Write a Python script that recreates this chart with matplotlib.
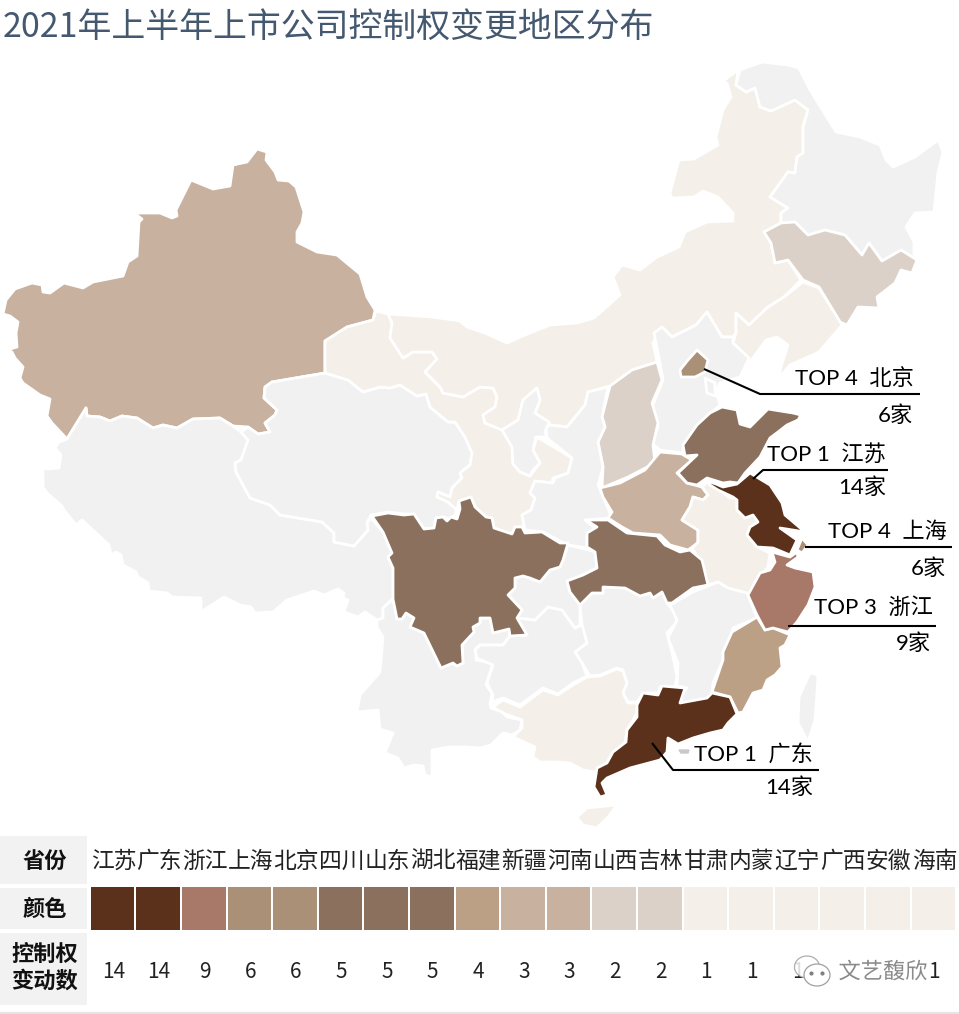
import matplotlib
matplotlib.use("Agg")
import matplotlib.pyplot as plt
from matplotlib.patches import Rectangle, Ellipse
import matplotlib.patheffects as pe

plt.rcParams['font.family'] = ['Noto Sans CJK SC', 'DejaVu Sans']

# table at the bottom
table_provinces = ['江苏', '广东', '浙江', '上海', '北京', '四川', '山东', '湖北', '福建', '新疆',
                   '河南', '山西', '吉林', '甘肃', '内蒙', '辽宁', '广西', '安徽', '海南']
table_counts = [14, 14, 9, 6, 6, 5, 5, 5, 4, 3, 3, 2, 2, 1, 1, 1, 1, 1, 1]
row_labels = ['省份', '颜色', '控制权\n变动数']
# these two counts sit under the watermark in the picture
hidden_counts = ['广西', '安徽']

# colour for each count
count_values = [14, 9, 6, 5, 4, 3, 2, 1]
count_colors = ['#5b311b', '#a87969', '#ab9078', '#8b705e', '#bba086', '#c9b1a0', '#dbd1c8', '#f4efe9']
no_data_color = '#f1f1f1'

# callouts
callout_ranks = [4, 1, 4, 3, 1]
callout_names = ['北京', '江苏', '上海', '浙江', '广东']
callout_counts = [6, 14, 6, 9, 14]

# province outlines
xinjiang = [(257,149),(267,152),(266,160),(275,172),(278,180),(289,181),(296,187),(304,212),(302,223),(297,232),(297,242),(317,252),(337,255),(360,274),(367,297),(375,310),(373,320),(347,327),(325,341),(325,373),(272,382),(265,387),(264,398),(277,410),(275,415),(265,423),(270,432),(258,434),(248,427),(233,426),(220,418),(193,419),(177,428),(163,425),(153,428),(137,418),(122,416),(110,421),(100,417),(87,416),(86,408),(67,439),(52,423),(47,416),(50,399),(40,395),(23,383),(20,378),(23,367),(15,358),(12,352),(3,348),(10,349),(17,347),(16,333),(18,322),(10,316),(3,314),(6,300),(15,289),(32,283),(42,285),(43,292),(50,293),(64,283),(83,288),(93,282),(123,276),(128,262),(137,256),(139,222),(142,219),(134,213),(160,213),(172,218),(177,216),(176,210),(191,180),(213,189),(230,186),(233,165),(247,162)]
xizang = [(67,439),(86,408),(87,416),(100,417),(110,421),(122,416),(137,418),(153,428),(163,425),(177,428),(193,419),(220,418),(233,426),(241,432),(248,440),(241,460),(235,463),(236,472),(250,498),(270,505),(280,515),(322,522),(334,533),(334,542),(354,546),(368,530),(367,523),(371,518),(383,532),(392,553),(388,557),(393,568),(393,598),(383,608),(383,618),(377,620),(365,612),(358,617),(344,612),(348,600),(343,598),(344,593),(338,589),(324,595),(314,591),(287,600),(273,612),(255,613),(251,607),(240,605),(224,597),(201,612),(201,598),(172,597),(167,593),(149,591),(148,583),(138,577),(136,572),(123,565),(121,555),(116,552),(111,555),(109,545),(82,520),(76,525),(64,510),(62,506),(47,493),(43,487),(43,468),(42,466),(47,469),(59,468),(61,455),(55,448),(59,442)]
qinghai = [(325,373),(348,380),(363,392),(380,387),(390,388),(400,385),(417,396),(426,394),(430,407),(448,422),(455,422),(465,437),(472,453),(470,465),(460,473),(462,478),(452,488),(450,497),(438,492),(437,497),(448,502),(457,510),(455,515),(449,519),(444,517),(436,518),(434,528),(424,529),(414,514),(404,514),(388,512),(371,515),(367,523),(368,530),(354,546),(334,542),(334,533),(322,522),(280,515),(270,505),(250,498),(236,472),(235,463),(241,460),(248,440),(241,432),(248,427),(258,434),(270,432),(265,423),(275,415),(277,410),(264,398),(265,387),(272,382)]
gansu = [(376,311),(388,314),(392,323),(390,338),(403,358),(413,352),(432,352),(437,359),(425,372),(440,387),(443,393),(463,397),(480,387),(493,388),(497,397),(495,407),(483,415),(485,423),(502,430),(512,447),(513,464),(520,472),(530,476),(540,463),(533,450),(537,437),(572,458),(568,473),(553,478),(552,483),(535,481),(530,493),(535,498),(531,510),(522,515),(523,520),(525,533),(522,527),(515,527),(512,534),(494,528),(492,518),(486,517),(475,507),(471,497),(459,501),(457,510),(448,502),(437,497),(438,492),(450,497),(452,488),(462,478),(460,473),(470,465),(472,453),(465,437),(455,422),(448,422),(430,407),(426,394),(417,396),(400,385),(390,388),(380,387),(363,392),(348,380),(325,373),(325,341),(347,327),(373,320)]
neimeng = [(388,314),(432,317),(460,321),(467,327),(485,333),(507,343),(525,335),(550,325),(577,323),(594,318),(620,295),(613,277),(622,265),(640,270),(657,257),(679,247),(685,232),(707,222),(733,221),(733,213),(718,197),(703,191),(694,197),(672,198),(670,193),(679,160),(694,159),(718,145),(716,137),(723,110),(731,97),(727,83),(722,82),(738,70),(736,85),(746,92),(755,88),(760,107),(771,111),(795,100),(808,110),(803,127),(803,153),(797,157),(795,173),(788,172),(770,197),(788,208),(781,213),(781,223),(764,232),(771,243),(775,263),(788,260),(801,280),(784,297),(768,307),(749,325),(736,313),(736,333),(733,337),(722,337),(707,312),(696,325),(672,337),(662,327),(653,343),(657,362),(632,370),(610,386),(588,392),(585,405),(567,427),(550,425),(535,413),(540,400),(537,388),(523,400),(518,420),(502,430),(485,423),(483,415),(495,407),(497,397),(493,388),(480,387),(463,397),(443,393),(440,387),(425,372),(437,359),(432,352),(413,352),(403,358),(390,338),(392,323)]
heilongjiang = [(740,70),(762,62),(788,65),(799,68),(810,90),(836,132),(860,137),(880,145),(886,160),(893,167),(915,157),(938,140),(943,152),(938,173),(934,212),(915,213),(906,227),(914,242),(914,258),(901,250),(882,261),(869,243),(862,255),(845,235),(825,230),(808,235),(795,222),(781,223),(781,213),(788,208),(770,197),(788,172),(795,173),(797,157),(803,153),(803,127),(808,110),(795,100),(771,111),(760,107),(755,88),(746,92),(736,85)]
jilin = [(781,223),(795,222),(808,235),(825,230),(845,235),(862,255),(869,243),(882,261),(901,250),(917,260),(912,273),(901,270),(895,283),(877,297),(879,308),(858,307),(847,325),(840,322),(819,287),(803,280),(788,260),(775,263),(771,243),(764,232)]
liaoning = [(803,282),(819,288),(842,325),(819,352),(790,365),(779,378),(781,367),(788,345),(777,337),(766,340),(744,370),(749,358),(733,343),(736,333),(736,313),(749,325),(768,307),(784,297)]
hebei = [(662,327),(672,337),(696,325),(707,312),(722,337),(733,337),(733,343),(749,358),(740,377),(720,383),(715,392),(718,398),(720,405),(698,425),(683,447),(683,453),(660,450),(652,443),(658,427),(652,407),(663,380),(660,363),(654,333)]
beijing = [(697,350),(708,360),(705,372),(695,377),(681,377),(680,370),(688,360)]
tianjin = [(705,378),(715,383),(715,392),(718,397),(707,393)]
shanxi = [(610,386),(632,370),(657,362),(662,380),(652,403),(658,423),(653,445),(655,463),(628,477),(602,488),(603,467),(598,442),(605,427),(602,417)]
shaanxi = [(550,425),(567,427),(585,405),(588,392),(608,387),(602,417),(605,427),(598,442),(603,467),(598,485),(610,513),(612,518),(585,520),(597,530),(587,537),(587,548),(568,545),(543,532),(525,530),(522,515),(531,510),(535,498),(530,493),(535,481),(553,483),(555,478),(568,473),(572,458),(547,438),(546,428)]
ningxia = [(502,430),(518,420),(523,400),(537,388),(540,400),(535,413),(549,422),(545,432),(547,437),(536,437),(533,450),(540,463),(533,470),(530,476),(520,472),(513,464),(512,447)]
henan = [(600,488),(620,483),(645,470),(660,452),(682,454),(692,460),(677,473),(687,483),(702,487),(708,495),(703,500),(693,497),(690,507),(682,520),(698,530),(698,543),(688,550),(670,545),(660,535),(633,533),(622,527),(608,518),(612,512),(603,497)]
shandong = [(683,445),(697,425),(710,413),(722,407),(737,410),(740,424),(750,427),(768,409),(793,413),(801,415),(798,420),(787,425),(778,432),(770,438),(760,457),(745,473),(738,483),(730,482),(723,483),(707,478),(697,485),(687,483),(678,473),(697,455),(685,456)]
jiangsu = [(707,481),(716,484),(723,487),(737,484),(750,473),(770,485),(782,503),(785,515),(805,532),(780,528),(797,540),(790,555),(773,548),(757,547),(747,535),(750,527),(758,522),(753,515),(745,518),(737,510),(737,500),(733,497),(718,490),(710,485)]
shanghai = [(802,538),(808,545),(802,553),(797,550)]
anhui = [(693,497),(703,500),(708,495),(702,487),(707,482),(717,488),(730,498),(737,498),(737,510),(745,518),(753,515),(758,522),(750,527),(747,535),(757,547),(770,553),(768,567),(760,577),(748,595),(728,588),(718,582),(708,585),(698,557),(692,548),(698,542),(698,530),(682,520),(690,507)]
zhejiang = [(772,552),(790,557),(797,552),(798,557),(787,565),(795,568),(813,572),(815,587),(808,605),(797,622),(788,632),(773,628),(765,630),(757,615),(748,595),(760,573),(770,570),(775,562)]
sichuan = [(372,516),(388,513),(404,515),(414,514),(424,529),(434,528),(436,518),(443,517),(447,521),(451,517),(457,519),(460,509),(459,501),(471,497),(475,507),(486,517),(492,518),(494,528),(512,534),(515,527),(522,527),(525,533),(542,532),(560,543),(568,543),(563,560),(560,567),(550,570),(540,582),(530,578),(523,576),(515,578),(515,588),(508,595),(522,610),(517,618),(527,635),(510,636),(509,629),(493,633),(490,618),(480,618),(480,623),(473,627),(474,632),(462,645),(463,663),(457,666),(453,663),(441,668),(424,633),(410,627),(414,618),(406,613),(402,619),(397,619),(393,599),(393,568),(388,557),(392,553),(383,532)]
chongqing = [(568,545),(585,549),(595,552),(597,568),(583,575),(567,581),(570,592),(580,605),(580,625),(575,628),(562,610),(548,607),(535,620),(517,618),(522,610),(508,595),(515,588),(515,578),(523,576),(540,582),(550,570),(560,567),(563,560)]
hubei = [(586,520),(608,520),(627,533),(657,536),(665,545),(680,552),(690,550),(702,560),(708,585),(693,588),(672,603),(667,603),(662,592),(653,598),(650,593),(640,596),(625,588),(603,587),(603,593),(592,593),(580,605),(570,592),(567,581),(583,575),(597,568),(595,552),(587,547),(587,533),(597,527)]
hunan = [(580,605),(592,593),(603,593),(603,587),(625,588),(640,596),(650,593),(653,598),(662,592),(667,603),(675,613),(677,622),(667,633),(673,657),(677,677),(675,687),(660,687),(658,693),(643,693),(637,702),(628,702),(623,693),(627,683),(623,670),(617,668),(600,675),(590,676),(582,663),(575,652),(587,643),(582,625)]
jiangxi = [(670,605),(693,592),(718,582),(728,588),(747,593),(755,613),(757,618),(733,628),(730,640),(723,652),(723,660),(713,683),(712,692),(710,700),(683,703),(680,697),(687,688),(677,686),(678,663),(668,638),(677,620)]
fujian = [(757,617),(765,630),(773,628),(788,634),(790,635),(785,645),(780,648),(782,667),(775,675),(767,680),(763,690),(753,693),(743,712),(738,713),(730,697),(712,692),(723,660),(723,652),(732,632)]
guangdong = [(643,693),(658,695),(662,686),(685,688),(680,703),(707,698),(712,693),(730,697),(737,714),(728,723),(723,730),(710,733),(693,738),(678,744),(668,738),(667,752),(660,760),(630,768),(607,778),(602,783),(607,795),(600,797),(594,787),(597,768),(607,763),(613,752),(626,742),(627,730),(637,717),(637,705)]
guangxi = [(493,707),(503,700),(520,707),(543,690),(558,695),(573,685),(587,677),(600,676),(617,669),(623,671),(627,683),(623,693),(628,703),(637,703),(637,713),(627,730),(625,743),(612,753),(607,763),(595,772),(583,770),(570,763),(557,762),(540,762),(533,757),(535,747),(513,737),(522,728),(522,720),(503,713)]
guizhou = [(475,650),(477,658),(493,665),(487,683),(493,695),(492,702),(503,698),(520,705),(543,688),(558,694),(573,683),(587,676),(582,663),(575,652),(587,643),(582,625),(575,628),(562,610),(548,607),(535,620),(517,618),(527,635),(510,636),(503,645),(480,645)]
yunnan = [(377,620),(383,618),(383,608),(393,599),(397,619),(402,619),(406,613),(414,618),(410,627),(424,633),(441,668),(453,663),(457,666),(463,663),(462,645),(474,632),(473,627),(480,623),(480,618),(490,618),(493,633),(509,629),(510,636),(503,645),(480,645),(476,648),(476,660),(493,663),(486,685),(492,693),(490,704),(491,708),(502,712),(507,717),(522,720),(520,730),(512,735),(503,733),(491,745),(480,748),(466,747),(449,747),(432,750),(432,777),(425,775),(423,766),(414,765),(404,768),(398,758),(385,753),(393,733),(380,729),(378,710),(357,712),(360,695),(380,672),(383,637),(377,627)]
hainan = [(577,817),(587,808),(617,805),(608,817),(597,828),(583,825)]
taiwan = [(810,673),(818,675),(817,693),(815,720),(808,742),(798,723),(799,697)]

# drawing order, small provinces last so they sit on top
map_shapes = [
    ('新疆', xinjiang), ('西藏', xizang), ('青海', qinghai), ('甘肃', gansu), ('内蒙', neimeng),
    ('黑龙江', heilongjiang), ('吉林', jilin), ('辽宁', liaoning), ('河北', hebei), ('山西', shanxi),
    ('陕西', shaanxi), ('宁夏', ningxia), ('河南', henan), ('安徽', anhui), ('湖南', hunan),
    ('江西', jiangxi), ('广西', guangxi), ('云南', yunnan), ('贵州', guizhou), ('重庆', chongqing),
    ('四川', sichuan), ('湖北', hubei), ('山东', shandong), ('福建', fujian), ('浙江', zhejiang),
    ('江苏', jiangsu), ('广东', guangdong), ('北京', beijing), ('天津', tianjin), ('上海', shanghai),
    ('海南', hainan), ('台湾', taiwan),
]

province_count = dict(zip(table_provinces, table_counts))
color_of_count = dict(zip(count_values, count_colors))

fig = plt.figure(figsize=(9.59, 10.14), dpi=100)
ax = fig.add_axes([0, 0, 1, 1])
ax.set_xlim(0, 959)
ax.set_ylim(1014, 0)
ax.axis('off')

ax.text(3, 27, '2021年上半年上市公司控制权变更地区分布', fontsize=24.4, color='#44586f', va='center', ha='left')

# map
for name, outline in map_shapes:
    if name in province_count:
        fill = color_of_count[province_count[name]]
    else:
        fill = no_data_color
    ax.fill([p[0] for p in outline], [p[1] for p in outline], facecolor=fill,
            edgecolor='white', linewidth=2.0, joinstyle='round', zorder=2)

# small grey blob next to the Guangdong label
ax.fill([679, 689, 688, 681], [750, 750, 753, 753], color='#c9c9c9', zorder=2)

# callouts: leader line, label, count
leader_x = [[704, 760, 920], [753, 763, 888], [805, 805, 952], [788, 788, 936], [652, 673, 819]]
leader_y = [[369, 394, 394], [479, 470, 470], [547, 547, 547], [626, 626, 626], [743, 770, 770]]
label_right = [914, 886, 947, 933, 813]
label_y = [379, 454, 532, 608, 754]
count_right = [913, 886, 946, 931, 813]
count_y = [416, 488, 569, 644, 788]

for i in range(len(callout_names)):
    ax.plot(leader_x[i], leader_y[i], color='black', linewidth=1.5, zorder=3, solid_capstyle='butt')
    ax.text(label_right[i], label_y[i], f'TOP {callout_ranks[i]}  {callout_names[i]}', fontsize=16,
            family=['Lato', 'Noto Sans CJK SC'], ha='right', va='center', color='black', zorder=4)
    ax.text(count_right[i], count_y[i], f'{callout_counts[i]}家', fontsize=16,
            family=['Lato', 'Noto Sans CJK SC'], ha='right', va='center', color='black', zorder=4)

# table row headers
row_top = [836, 888, 933]
row_bottom = [884, 929, 1005]
row_text_y = [861, 909, 968]
for i in range(3):
    ax.add_patch(Rectangle((0, row_top[i]), 87, row_bottom[i] - row_top[i], facecolor='#f2f2f2', edgecolor='none'))
    ax.text(45, row_text_y[i], row_labels[i], fontsize=16, fontweight='bold', color='#111111',
            ha='center', va='center', linespacing=1.2)

# table columns
col_left = 90.7
col_w = 45.6
for i, prov in enumerate(table_provinces):
    x = col_left + col_w * i
    ax.text(x + col_w / 2, 861, prov, fontsize=16.4, color='#222222', ha='center', va='center')
    ax.add_patch(Rectangle((x, 887), col_w - 2, 43, facecolor=color_of_count[table_counts[i]], edgecolor='none'))
    if prov not in hidden_counts:
        ax.text(x + col_w / 2, 972, str(table_counts[i]), fontsize=15, color='#222222', ha='center', va='center')

ax.plot([0, 959], [1013, 1013], color='#e4e4e4', linewidth=1.5)

# watermark over the last columns
ax.add_patch(Ellipse((807, 967), 25, 22, facecolor='white', edgecolor='#a0a0a0', linewidth=0.9, alpha=0.85, zorder=6))
ax.add_patch(Ellipse((817, 975), 26, 22, facecolor='white', edgecolor='#a0a0a0', linewidth=0.9, zorder=6))
ax.plot([811, 822], [973, 973], linestyle='none', marker='o', markersize=2, color='#808080', zorder=7)
ax.text(883, 972, '文艺馥欣', fontsize=16, color='#8a8a8a', ha='center', va='center', zorder=7,
        path_effects=[pe.withStroke(linewidth=2.5, foreground='white')])

fig.savefig('out.png', dpi=100)
